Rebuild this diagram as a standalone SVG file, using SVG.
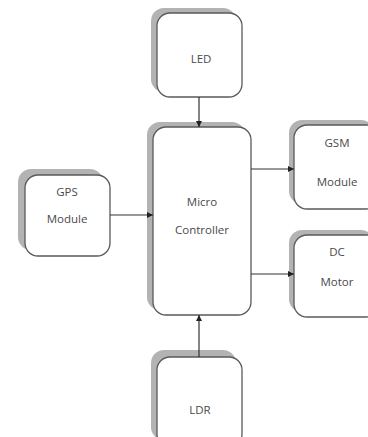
<svg xmlns="http://www.w3.org/2000/svg" width="368" height="437" viewBox="0 0 368 437">
<style>
.sh{fill:#b3b3b3}
.bx{fill:#fff;stroke:#5a5a5a;stroke-width:1.3}
.t{font-family:"Open Sans","Liberation Sans",sans-serif;font-size:11.5px;fill:#4a4a4a;text-anchor:middle}
.c{stroke:#333;stroke-width:1.2;fill:none}
</style>
<defs>
<marker id="ah" viewBox="0 0 10 10" refX="10" refY="5" markerWidth="6" markerHeight="6" orient="auto" markerUnits="userSpaceOnUse">
<path d="M0,0 L10,5 L0,10 z" fill="#222"/>
</marker>
</defs>
<rect width="368" height="437" fill="#fff"/>
<g id="led">
<rect class="sh" x="151" y="8" width="85" height="84" rx="13"/>
<rect class="bx" x="157" y="13" width="85" height="84" rx="13"/>
<text class="t" x="201" y="63">LED</text>
</g>
<g id="micro">
<rect class="sh" x="147" y="122" width="98" height="188" rx="13"/>
<rect class="bx" x="153" y="127" width="98" height="188" rx="13"/>
<text class="t" x="202" y="206">Micro</text>
<text class="t" x="202" y="234">Controller</text>
</g>
<g id="gps">
<rect class="sh" x="18" y="169" width="85" height="81" rx="13"/>
<rect class="bx" x="25" y="175" width="85" height="81" rx="13"/>
<text class="t" x="67" y="196">GPS</text>
<text class="t" x="67" y="223">Module</text>
</g>
<g id="gsm">
<rect class="sh" x="289" y="120" width="85" height="84" rx="13"/>
<rect class="bx" x="294" y="125" width="85" height="84" rx="13"/>
<text class="t" x="337" y="147">GSM</text>
<text class="t" x="337" y="186">Module</text>
</g>
<g id="dc">
<rect class="sh" x="289" y="230" width="85" height="82" rx="13"/>
<rect class="bx" x="294" y="235" width="85" height="82" rx="13"/>
<text class="t" x="337" y="256">DC</text>
<text class="t" x="337" y="286">Motor</text>
</g>
<g id="ldr">
<rect class="sh" x="151" y="350" width="85" height="90" rx="13"/>
<rect class="bx" x="157" y="357" width="85" height="90" rx="13"/>
<text class="t" x="200" y="414">LDR</text>
</g>
<g id="connectors">
<line class="c" x1="199" y1="97" x2="199" y2="127" marker-end="url(#ah)"/>
<line class="c" x1="110" y1="215" x2="153" y2="215" marker-end="url(#ah)"/>
<line class="c" x1="251" y1="169" x2="294" y2="169" marker-end="url(#ah)"/>
<line class="c" x1="251" y1="274" x2="294" y2="274" marker-end="url(#ah)"/>
<line class="c" x1="199" y1="357" x2="199" y2="315" marker-end="url(#ah)"/>
</g>
</svg>
